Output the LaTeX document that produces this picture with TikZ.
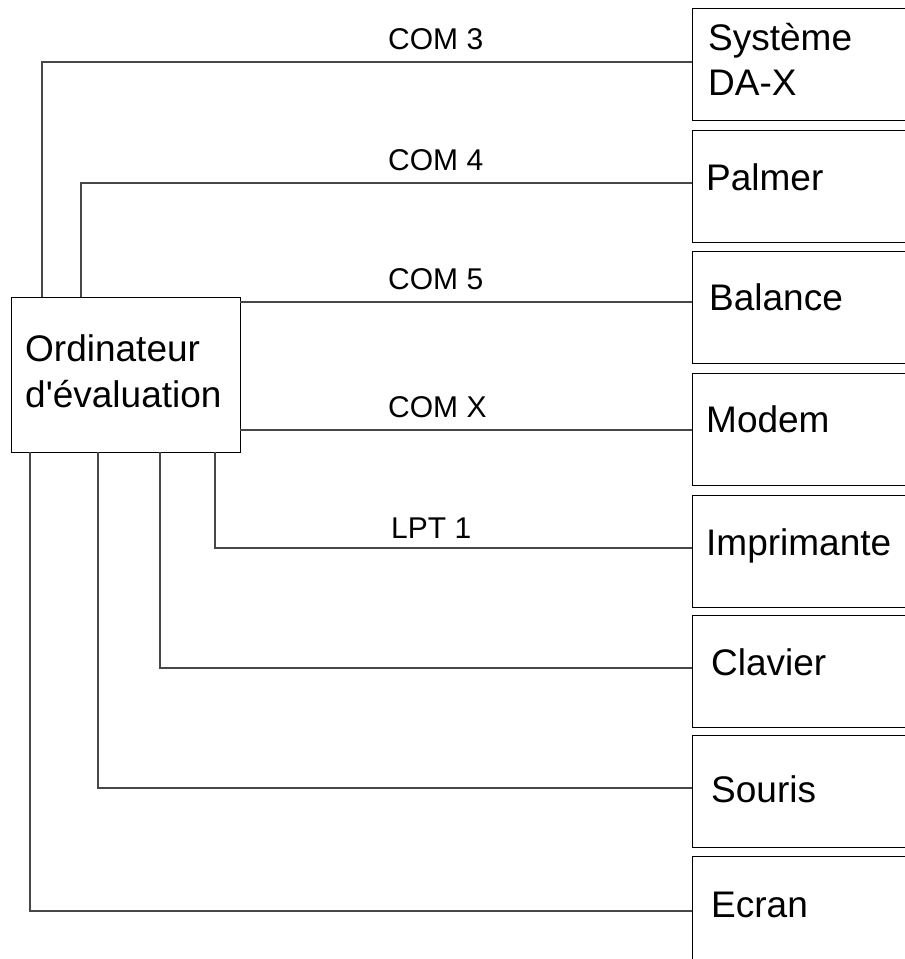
\documentclass[tikz,border=0pt]{standalone}
\usepackage{fontspec}
\setmainfont{Liberation Sans}[Ligatures=TeXOff]
\begin{document}
\begin{tikzpicture}[x=1pt,y=-1pt,
  devbox/.style={rectangle,inner sep=0pt,outer sep=0pt,
    minimum width=260pt,minimum height=112pt,anchor=north west},
  boxline/.style={draw=black,line width=1pt},
  pcbox/.style={draw=black,line width=1pt,rectangle,inner sep=0pt,outer sep=0pt,
    minimum width=229pt,minimum height=155pt,anchor=north west},
  bigtxt/.style={inner sep=0pt,anchor=base west,font=\fontsize{37}{44}\selectfont},
  lbl/.style={inner sep=0pt,anchor=base west,font=\fontsize{30}{36}\selectfont},
  wire/.style={draw=black!72,line width=1.2pt}]
\useasboundingbox (0,0) rectangle (905,959);
\clip (0,0) rectangle (905,959);
% computer
\node[pcbox] (pc) at (11,297) {};
\node[bigtxt] (pct1) at (25,361) {Ordinateur};
\node[bigtxt] (pct2) at (25,407) {d'évaluation};
% devices
\foreach \nm/\yy in {dax/8,pal/130,bal/251,mod/373,imp/495,cla/615,sou/735,ecr/856}{
  \node[devbox] (\nm) at (692,\yy) {};
  \draw[boxline] (\nm.north east) -- (\nm.north west) -- (\nm.south west) -- (\nm.south east);
}
\node[bigtxt] (daxt1) at (708,50) {Système};
\node[bigtxt] (daxt2) at (708,95) {DA-X};
\node[bigtxt] (palt) at (706,190) {Palmer};
\node[bigtxt] (balt) at (709,310) {Balance};
\node[bigtxt] (modt) at (706,432) {Modem};
\node[bigtxt] (impt) at (706,555) {Imprimante};
\node[bigtxt] (clat) at (711,675) {Clavier};
\node[bigtxt] (sout) at (711,802) {Souris};
\node[bigtxt] (ecrt) at (711,917) {Ecran};
% wires
\draw[wire] (pc.north -| 42,0) |- (dax.west |- 0,62);
\draw[wire] (pc.north -| 81,0) |- (pal.west |- 0,183);
\draw[wire] (pc.east |- 0,302) -- (bal.west |- 0,302);
\draw[wire] (pc.east |- 0,430) -- (mod.west |- 0,430);
\draw[wire] (pc.south -| 215,0) |- (imp.west |- 0,548);
\draw[wire] (pc.south -| 160,0) |- (cla.west |- 0,668);
\draw[wire] (pc.south -| 98,0) |- (sou.west |- 0,788);
\draw[wire] (pc.south -| 30,0) |- (ecr.west |- 0,911);
% labels
\node[lbl] (l1) at (388,49) {COM 3};
\node[lbl] (l2) at (388,170) {COM 4};
\node[lbl] (l3) at (388,289) {COM 5};
\node[lbl] (l4) at (388,417) {COM X};
\node[lbl] (l5) at (391,538) {LPT 1};
\end{tikzpicture}
\end{document}
